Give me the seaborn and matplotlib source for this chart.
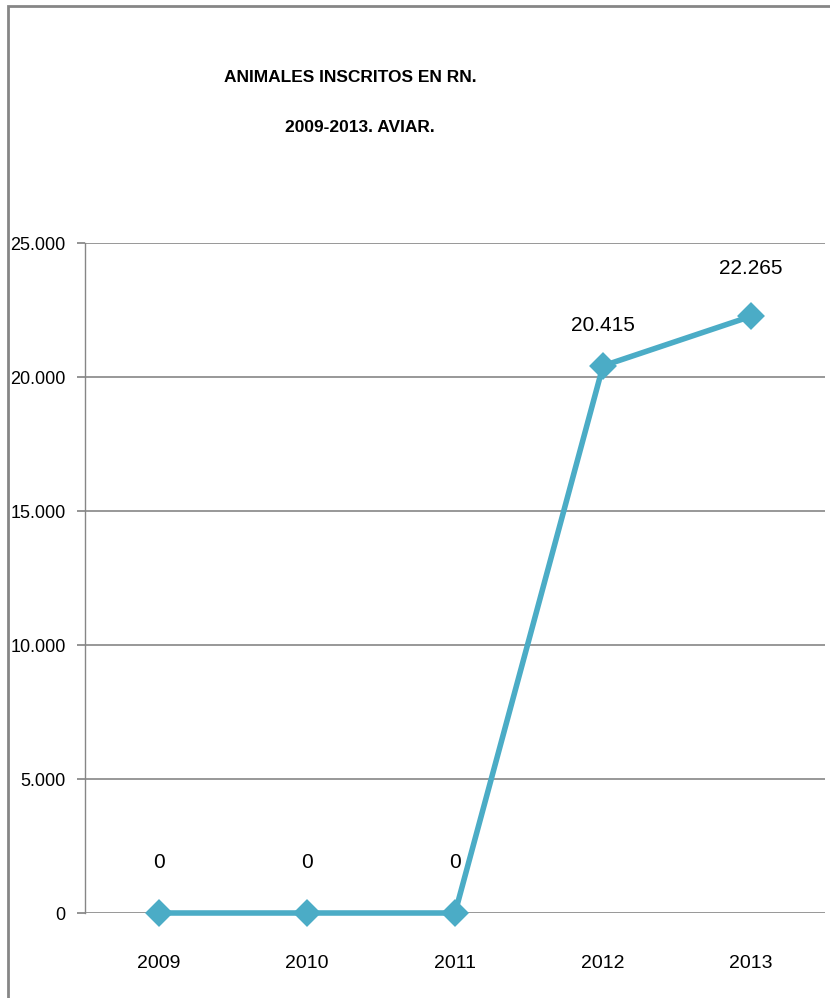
import matplotlib
matplotlib.use("Agg")
import matplotlib.pyplot as plt
from matplotlib.patches import Rectangle
import seaborn as sns
import pandas as pd

years = ["2009", "2010", "2011", "2012", "2013"]
values = [0, 0, 0, 20415, 22265]
value_labels = ["0", "0", "0", "20.415", "22.265"]
yticks = [0, 5000, 10000, 15000, 20000, 25000]
ytick_labels = ["0", "5.000", "10.000", "15.000", "20.000", "25.000"]
title_lines = ["ANIMALES INSCRITOS EN RN.", "2009-2013. AVIAR."]

sns.set_theme(style="white")
plt.rcParams["font.family"] = ["Liberation Sans Narrow", "Liberation Sans", "DejaVu Sans"]
plt.rcParams["text.color"] = "black"

color = "#4BACC6"
grid_c = "#868686"

fig = plt.figure(figsize=(8.30, 9.98), dpi=100)
ax = fig.add_axes([85/830, 1-913/998, 740/830, 670/998])

df = pd.DataFrame({"year": years, "value": values})
sns.pointplot(data=df, x="year", y="value", color=color, markers="D",
              linewidth=4.0, markersize=11, ax=ax, errorbar=None)
for art in ax.lines + ax.collections:
    art.set_clip_on(False)

ax.set_ylim(0, 25000)
ax.set_xlim(-0.5, 4.5)
ax.set_yticks(yticks)
ax.set_yticklabels(ytick_labels)
ax.set_xlabel("")
ax.set_ylabel("")
for y in yticks:
    ax.axhline(y, color=grid_c, lw=1.2, zorder=0)
for s in ["top", "right", "bottom"]:
    ax.spines[s].set_visible(False)
ax.spines["left"].set_color(grid_c)
ax.spines["left"].set_linewidth(1.0)
ax.tick_params(axis="y", left=True, length=6, color=grid_c, labelsize=13, pad=8, labelcolor="black")
ax.tick_params(axis="x", bottom=False, labelsize=14, pad=24, labelcolor="black")

offsets = [50, 50, 50, 40, 48]
for i, (v, lab) in enumerate(zip(values, value_labels)):
    ax.annotate(lab, (i, v), xytext=(0, offsets[i]), textcoords="offset pixels",
                ha="center", va="center", fontsize=15, color="black")

fig.text(350/830, 1-78/998, title_lines[0], ha="center", va="center", fontsize=12.5, fontweight="bold", color="black")
fig.text(360/830, 1-128/998, title_lines[1], ha="center", va="center", fontsize=12.5, fontweight="bold", color="black")

fig.patches.append(Rectangle((8/830, -0.1), 1.2, 1-6/998+0.1, transform=fig.transFigure,
                             fill=False, edgecolor=grid_c, lw=2.0))

fig.savefig("out.png", dpi=100)
